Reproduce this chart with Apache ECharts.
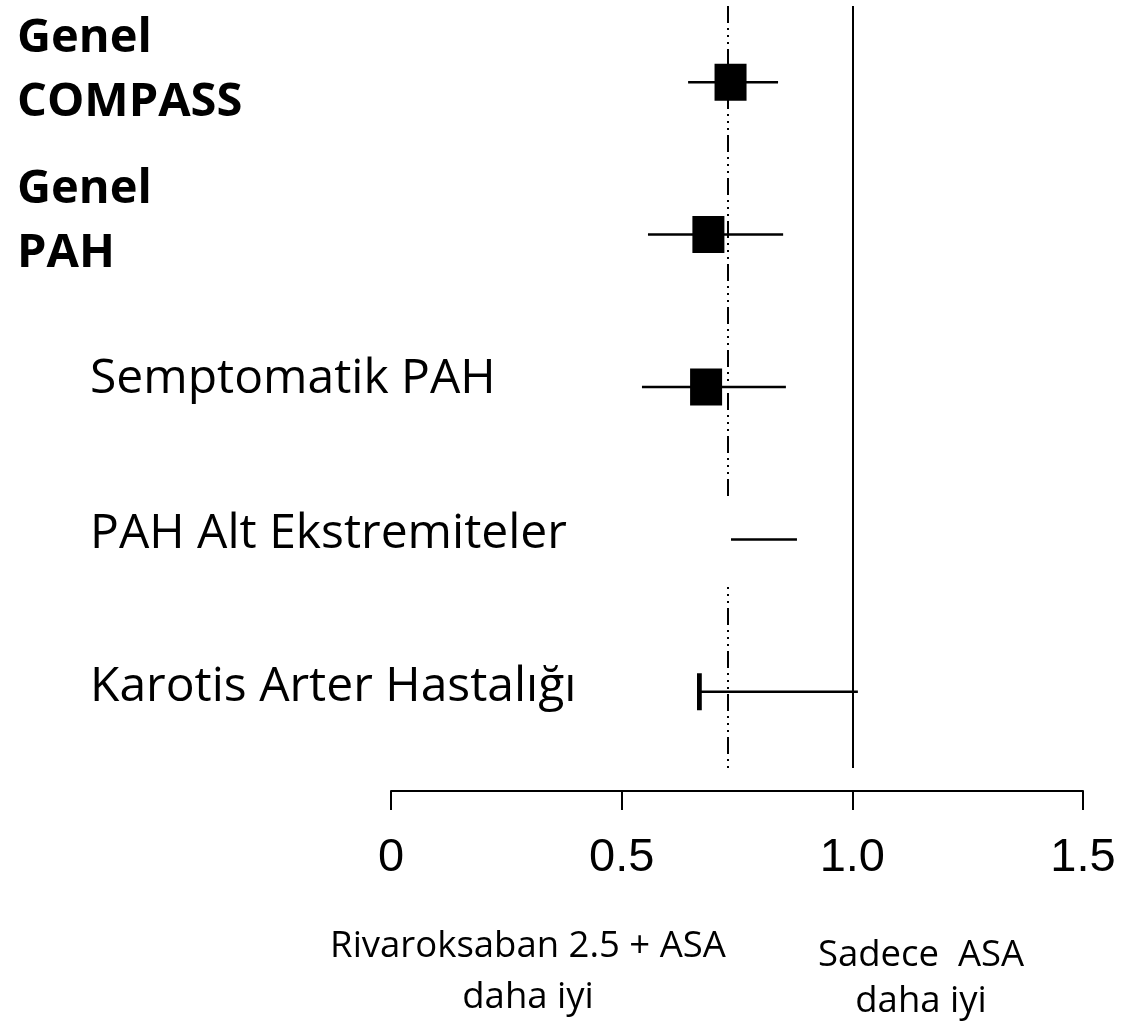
<!DOCTYPE html>
<html>
<head>
<meta charset="utf-8">
<script src="https://cdn.jsdelivr.net/npm/echarts@6/dist/echarts.min.js"></script>
<style>
html,body{margin:0;padding:0;background:#fff;}
#main{width:1133px;height:1030px;}
</style>
</head>
<body>
<div id="main"></div>
<script>
// ---- data ----
const categories = ['Genel\nCOMPASS', 'Genel\nPAH', 'Semptomatik PAH', 'PAH Alt Ekstremiteler', 'Karotis Arter Hastalığı'];
const estimates = [0.736, 0.688, 0.683, 0.69, 0.639];
const lowerCI  = [0.644, 0.557, 0.544, 0.54, 0.40];
const upperCI  = [0.839, 0.850, 0.856, 0.880, 1.012];
const overallEstimate = 0.734;
const noEffect = 1.0;
const xTickLabels = ['0', '0.5', '1.0', '1.5'];
const leftNote = 'Rivaroksaban 2.5 + ASA\ndaha iyi';
const rightNote = 'Sadece  ASA\ndaha iyi';

// ---- presentation ----
const boldRows = [true, true, false, false, false];
const spacerStyle = ['s24', 's26', 's16', null, null];
const labelStyles = [
  {align: 'left'},
  {align: 'left'},
  {align: 'left', padding: [0, 0, 0, 73]},
  {align: 'left', fontSize: 48, lineHeight: 60, padding: [8, 0, 18, 73], width: 641, backgroundColor: '#fff'},
  {align: 'left', fontSize: 48, lineHeight: 60, padding: [8, 0, 16, 73], width: 607, backgroundColor: '#fff'}
];

const chart = echarts.init(document.getElementById('main'));
const seriesData = categories.map((c, i) => [i, lowerCI[i], estimates[i], upperCI[i]]);

chart.setOption({
  backgroundColor: '#fff',
  animation: false,
  grid: {left: 391, right: 50, top: 6, bottom: 262, containLabel: false, outerBoundsMode: 'none'},
  xAxis: {
    type: 'value', min: 0, max: 1.5, interval: 0.5,
    offset: 23,
    splitLine: {show: false},
    axisLine: {show: true, lineStyle: {color: '#000', width: 2}},
    axisTick: {show: true, length: 19, lineStyle: {color: '#000', width: 2}},
    axisLabel: {
      color: '#000', fontFamily: 'Liberation Sans', fontSize: 47, margin: 44,
      formatter: (v) => xTickLabels[Math.round(v / 0.5)]
    }
  },
  yAxis: {
    type: 'category', inverse: true, z: 5,
    data: categories.map((c, i) => ({value: c, textStyle: labelStyles[i]})),
    axisLine: {show: false}, axisTick: {show: false}, splitLine: {show: false},
    axisLabel: {
      interval: 0, margin: 374, align: 'left', color: '#000',
      fontFamily: 'Open Sans', fontSize: 48, hideOverlap: false,
      formatter: function (value, idx) {
        const sp = spacerStyle[idx];
        if (!sp) return value;
        const st = boldRows[idx] ? 'b' : 'r';
        return value.split('\n').map(l => '{' + st + '|' + l + '}').join('\n') + '\n{' + sp + '| }';
      },
      rich: {
        b: {fontFamily: 'Open Sans', fontWeight: 'bold', fontSize: 47, lineHeight: 64, color: '#000'},
        r: {fontFamily: 'Open Sans', fontSize: 48, lineHeight: 60, color: '#000'},
        s24: {fontSize: 1, lineHeight: 24},
        s26: {fontSize: 1, lineHeight: 26},
        s16: {fontSize: 1, lineHeight: 16}
      }
    }
  },
  series: [{
    type: 'custom',
    data: seriesData,
    encode: {x: [1, 2, 3], y: 0},
    renderItem: function (params, api) {
      const idx = api.value(0);
      const pLo = api.coord([api.value(1), idx]);
      const pEst = api.coord([api.value(2), idx]);
      const pHi = api.coord([api.value(3), idx]);
      const w = 32, h = 37;
      return {
        type: 'group',
        children: [
          {type: 'line', shape: {x1: pLo[0], y1: pLo[1], x2: pHi[0], y2: pHi[1]},
           style: {stroke: '#000', lineWidth: 2.5}},
          {type: 'rect', shape: {x: pEst[0] - w / 2, y: pEst[1] - h / 2, width: w, height: h},
           style: {fill: '#000'}}
        ]
      };
    },
    markLine: {
      silent: true, symbol: 'none', label: {show: false},
      data: [
        {xAxis: overallEstimate, lineStyle: {color: '#000', width: 2, type: [17, 5, 2, 5, 2, 5, 2, 5]}},
        {xAxis: noEffect, lineStyle: {color: '#000', width: 2, type: 'solid'}}
      ]
    }
  }],
  graphic: [
    {type: 'text', x: 528, y: 921, style: {text: leftNote, fontFamily: 'Open Sans', fontSize: 36.5, lineHeight: 51, fill: '#000', align: 'center', verticalAlign: 'top'}},
    {type: 'text', x: 921, y: 933, style: {text: rightNote, fontFamily: 'Open Sans', fontSize: 36.5, lineHeight: 46, fill: '#000', align: 'center', verticalAlign: 'top'}}
  ]
});
</script>
</body>
</html>
